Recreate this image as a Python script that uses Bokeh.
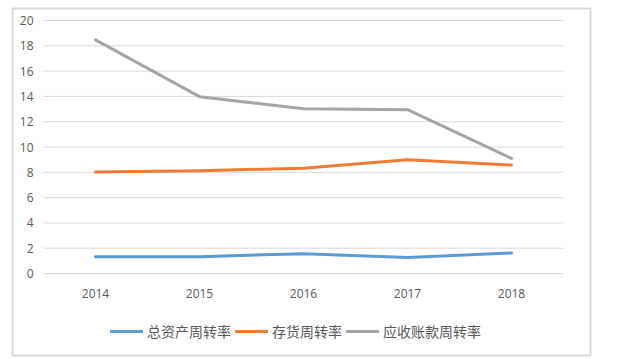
from bokeh.plotting import figure
from bokeh.models import Legend, LegendItem, Range1d
from bokeh.core.properties import value
from bokeh.embed import file_html
from bokeh.resources import INLINE

years = ["2014", "2015", "2016", "2017", "2018"]
total_asset_turnover = [1.32, 1.33, 1.57, 1.26, 1.62]
inventory_turnover = [8.02, 8.13, 8.32, 9.0, 8.58]
receivables_turnover = [18.47, 13.98, 13.03, 12.95, 9.1]
series_names = ["总资产周转率", "存货周转率", "应收账款周转率"]
y_ticks = [0, 2, 4, 6, 8, 10, 12, 14, 16, 18, 20]

colors = ["#5B9BD5", "#ED7D31", "#A5A5A5"]
grid_color = "#D9D9D9"
text_color = "#595959"

# layout (canvas pixels)
W, H = 606, 357
box_l, box_r, box_t, box_b = 12, 590, 8, 355
px_y0, px_y20 = 273, 20          # pixel rows of y=0 and y=20
px_x0, px_step = 95, 104         # pixel column of first category, spacing
ppu = (px_y0 - px_y20) / 20.0

y_start = -(box_b - px_y0) / ppu
y_end = 20 + (px_y20 - box_t) / ppu
x_start = (box_l - px_x0) / px_step
x_end = (box_r - px_x0) / px_step

p = figure(width=W, height=H, x_range=Range1d(x_start, x_end), y_range=Range1d(y_start, y_end),
           output_backend="svg", toolbar_location=None,
           min_border_left=box_l, min_border_right=W - box_r,
           min_border_top=box_t, min_border_bottom=H - box_b)
p.axis.visible = False
p.grid.visible = False
p.outline_line_color = grid_color
p.outline_line_width = 2
p.background_fill_color = "white"
p.border_fill_color = "white"

xs = list(range(len(years)))
n = len(years)

# gridlines across the category band
p.segment(x0=[-0.5] * len(y_ticks), x1=[n - 0.5] * len(y_ticks), y0=y_ticks, y1=y_ticks,
          line_color=grid_color, line_width=1)

# y tick labels
ylab_x = (33 - px_x0) / px_step
p.text(x=[ylab_x] * len(y_ticks), y=y_ticks, text=[str(t) for t in y_ticks],
       text_align="right", text_baseline="middle", text_color=text_color,
       text_font=value("Open Sans"), text_font_size="12px")

# x tick labels
xlab_y = -(293 - px_y0) / ppu
p.text(x=xs, y=[xlab_y] * n, text=years, text_align="center", text_baseline="middle",
       text_color=text_color, text_font=value("Open Sans"), text_font_size="12px")

renderers = []
for vals, c in zip([total_asset_turnover, inventory_turnover, receivables_turnover], colors):
    r = p.line(xs, vals, line_color=c, line_width=3, line_cap="round", line_join="round")
    renderers.append(r)

legend = Legend(items=[LegendItem(label=nm, renderers=[r]) for nm, r in zip(series_names, renderers)],
                orientation="horizontal", location=(98, 14),
                label_text_font="Noto Sans CJK SC", label_text_font_size="14px",
                label_text_color=text_color, glyph_width=33, label_standoff=4,
                spacing=4, padding=0, margin=0, border_line_color=None,
                background_fill_alpha=0)
p.add_layout(legend, "center")

open("out.html", "w").write(file_html(p, INLINE))
